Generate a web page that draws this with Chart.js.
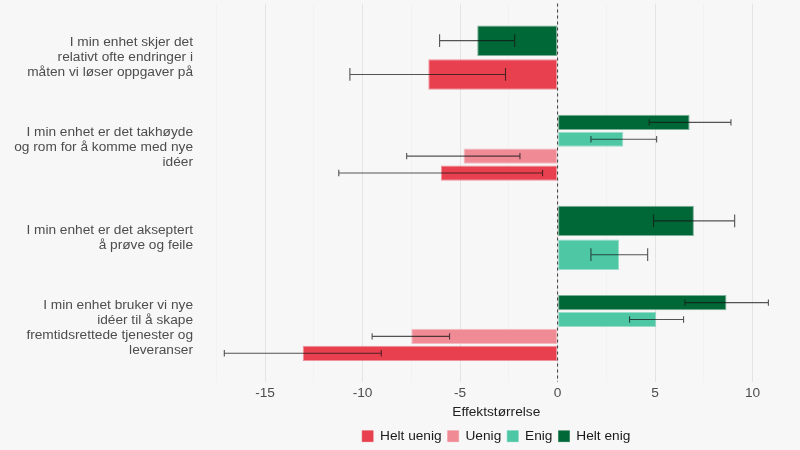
<!DOCTYPE html>
<html>
<head>
<meta charset="utf-8">
<script src="https://cdn.jsdelivr.net/npm/chart.js@4.4.1/dist/chart.umd.min.js"></script>
<style>
html,body{margin:0;padding:0;background:#f7f7f7;}
#wrap{width:800px;height:450px;position:relative;}
canvas{display:block;}
</style>
</head>
<body>
<div id="wrap"><canvas id="c" width="800" height="450"></canvas></div>
<script>
// ---- data ----
const categories = [
  ["I min enhet skjer det", "relativt ofte endringer i", "måten vi løser oppgaver på"],
  ["I min enhet er det takhøyde", "og rom for å komme med nye", "idéer"],
  ["I min enhet er det akseptert", "å prøve og feile"],
  ["I min enhet bruker vi nye", "idéer til å skape", "fremtidsrettede tjenester og", "leveranser"]
];
const seriesNames = ["Helt uenig", "Uenig", "Enig", "Helt enig"];

const heltUenig     = [-6.63, -5.98, null, -13.07];
const heltUenigLow  = [-10.65, -11.22, null, -17.09];
const heltUenigHigh = [-2.67, -0.77, null, -9.04];

const uenig     = [null, -4.82, null, -7.50];
const uenigLow  = [null, -7.74, null, -9.51];
const uenigHigh = [null, -1.93, null, -5.54];

const enig     = [null, 3.37, 3.15, 5.06];
const enigLow  = [null, 1.71, 1.71, 3.69];
const enigHigh = [null, 5.08, 4.62, 6.46];

const heltEnig     = [-4.12, 6.77, 6.99, 8.66];
const heltEnigLow  = [-6.05, 4.70, 4.92, 6.53];
const heltEnigHigh = [-2.20, 8.89, 9.08, 10.81];

const xTickLabels = [-15, -10, -5, 0, 5, 10];
const axisTitle = "Effektstørrelse";

// ---- build datasets ----
function pts(vals, lo, hi) {
  const out = [];
  vals.forEach((v, i) => {
    if (v !== null) out.push({ x: v, y: i + 1, lo: lo[i], hi: hi[i] });
  });
  return out;
}
const colors = {
  "Helt uenig": ["#e8404f", "rgba(232,64,79,0.55)"],
  "Uenig": ["#f08a95", "rgba(240,138,149,0.55)"],
  "Enig": ["#4ec7a5", "rgba(78,199,165,0.55)"],
  "Helt enig": ["#006837", "rgba(0,104,55,0.5)"]
};
// order top-to-bottom inside each group
const seriesData = {
  "Helt enig": pts(heltEnig, heltEnigLow, heltEnigHigh),
  "Enig": pts(enig, enigLow, enigHigh),
  "Uenig": pts(uenig, uenigLow, uenigHigh),
  "Helt uenig": pts(heltUenig, heltUenigLow, heltUenigHigh)
};
const datasets = ["Helt enig", "Enig", "Uenig", "Helt uenig"].map(name => ({
  label: name,
  data: seriesData[name],
  backgroundColor: colors[name][0],
  borderColor: colors[name][1],
  borderWidth: 1,
  borderSkipped: false,
  skipNull: true,
  categoryPercentage: 0.75,
  barPercentage: 0.9
}));

// ---- plugins ----
const extras = {
  id: 'extras',
  beforeDraw(chart) {
    const lg = chart.legend, ca = chart.chartArea;
    if (lg) { lg.left = ca.left; lg.right = ca.right; lg.width = ca.right - ca.left; }
  },
  afterDatasetsDraw(chart) {
    const ctx = chart.ctx, xs = chart.scales.x, ca = chart.chartArea;
    // zero reference line
    const x0 = xs.getPixelForValue(0);
    ctx.save();
    ctx.strokeStyle = '#3a3a3a';
    ctx.lineWidth = 1;
    ctx.setLineDash([3, 3]);
    ctx.beginPath();
    ctx.moveTo(x0, ca.top);
    ctx.lineTo(x0, ca.bottom);
    ctx.stroke();
    ctx.setLineDash([]);
    // error bars
    ctx.strokeStyle = 'rgba(20,20,20,0.72)';
    ctx.lineWidth = 1.1;
    chart.data.datasets.forEach((ds, di) => {
      const meta = chart.getDatasetMeta(di);
      meta.data.forEach((el, j) => {
        const d = ds.data[j];
        if (!d || d.lo == null) return;
        const p = el.getProps(['y', 'height'], true);
        const xl = xs.getPixelForValue(d.lo), xh = xs.getPixelForValue(d.hi);
        const c = p.height * 0.21;
        ctx.beginPath();
        ctx.moveTo(xl, p.y); ctx.lineTo(xh, p.y);
        ctx.moveTo(xl, p.y - c); ctx.lineTo(xl, p.y + c);
        ctx.moveTo(xh, p.y - c); ctx.lineTo(xh, p.y + c);
        ctx.stroke();
      });
    });
    ctx.restore();
  }
};

Chart.defaults.font.family = "'Liberation Sans', Arial, Helvetica, sans-serif";
Chart.defaults.font.size = 13.7;

new Chart(document.getElementById('c'), {
  type: 'bar',
  data: { datasets },
  plugins: [extras],
  options: {
    responsive: false,
    animation: false,
    indexAxis: 'y',
    layout: { padding: { top: 3.5, right: 4.5, bottom: -3, left: 0 } },
    scales: {
      y: {
        type: 'linear',
        reverse: true,
        offset: false,
        min: 0.4,
        max: 4.6,
        afterBuildTicks(s) { s.ticks = categories.map((c, i) => ({ value: i + 1 })); },
        afterFit(s) { s.width = 197; s.paddingTop = 0; s.paddingBottom = 0; },
        grid: { display: false, drawTicks: false, offset: false },
        border: { display: false },
        ticks: {
          padding: 4,
          color: '#4d4d4d',
          font: { size: 13.7, lineHeight: '15px' },
          autoSkip: false,
          callback: v => categories[Math.round(v) - 1]
        }
      },
      x: {
        type: 'linear',
        min: -18.49,
        max: 12.2,
        afterBuildTicks(s) {
          const t = [];
          for (let v = -17.5; v <= s.max; v += 2.5) t.push({ value: v });
          s.ticks = t;
        },
        afterFit(s) { s.height = 41.3; s.paddingLeft = 0; s.paddingRight = 0; },
        grid: {
          drawTicks: false,
          color: c => (c.tick && xTickLabels.includes(c.tick.value)) ? '#e4e4e4' : '#efefef',
          lineWidth: c => (c.tick && xTickLabels.includes(c.tick.value)) ? 1 : 0.6
        },
        border: { display: false },
        ticks: {
          padding: 3,
          color: '#4d4d4d',
          autoSkip: false,
          maxRotation: 0,
          font: { size: 13.7 },
          callback: v => xTickLabels.includes(v) ? String(v) : ''
        },
        title: {
          display: true,
          text: axisTitle,
          color: '#222',
          font: { size: 13.7 },
          padding: { top: 4, bottom: 3 }
        }
      }
    },
    plugins: {
      legend: {
        position: 'bottom',
        labels: {
          boxWidth: 11,
          boxHeight: 11,
          padding: 6,
          color: '#1a1a1a',
          font: { size: 13.7 },
          sort: (a, b) => seriesNames.indexOf(a.text) - seriesNames.indexOf(b.text)
        }
      },
      tooltip: { enabled: false }
    }
  }
});
</script>
</body>
</html>
